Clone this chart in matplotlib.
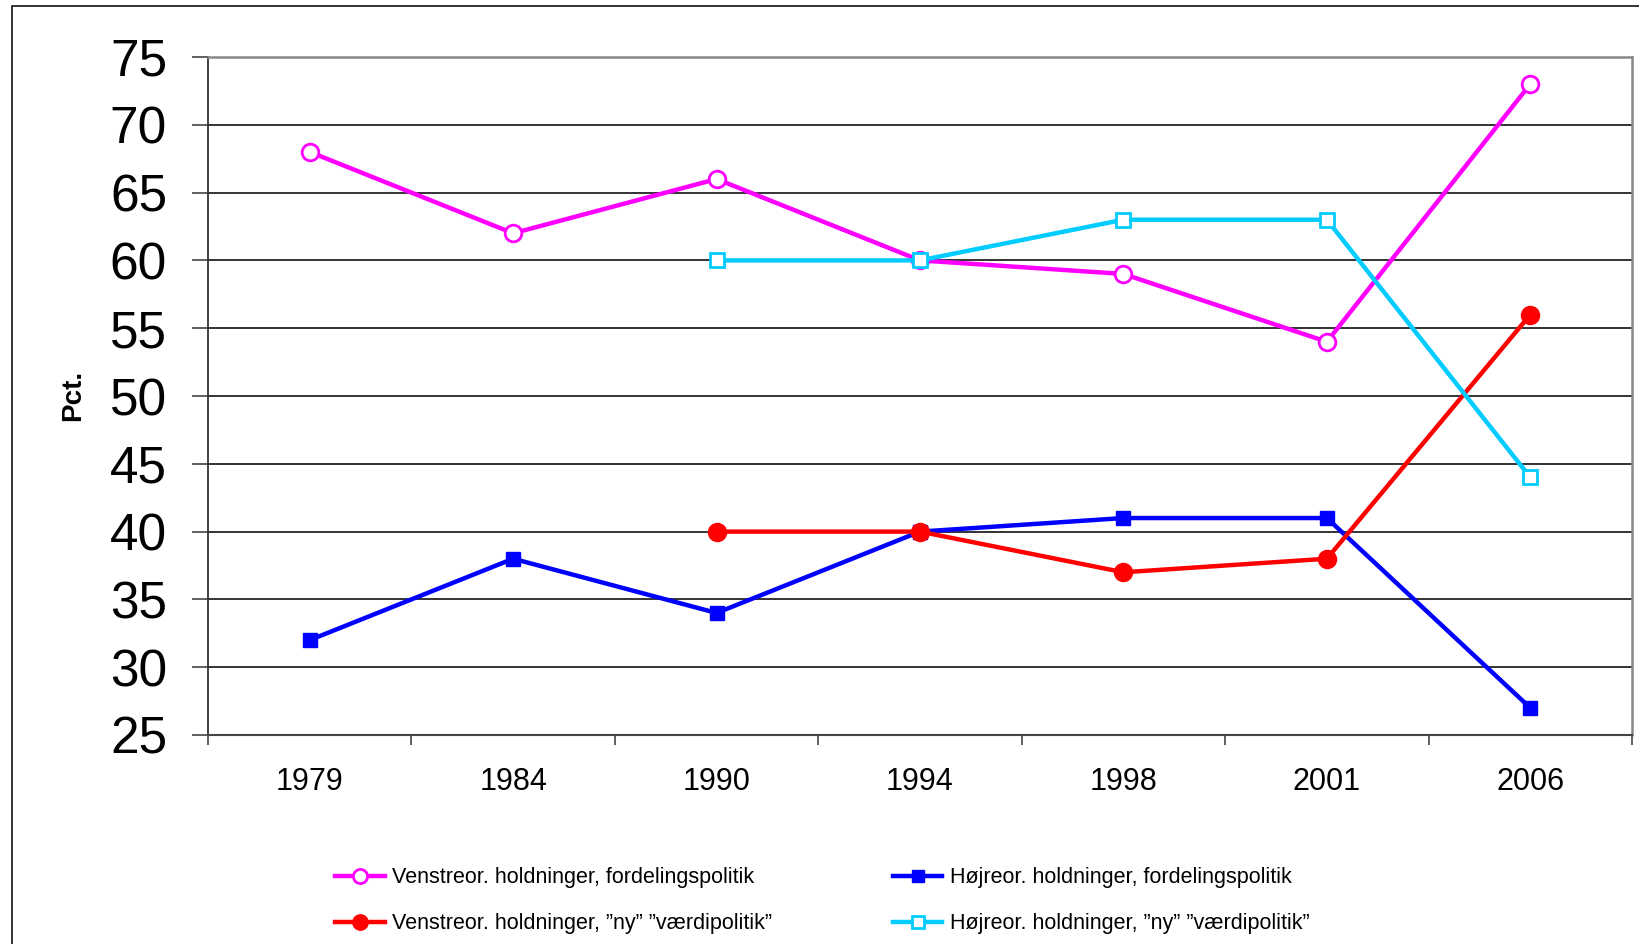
import matplotlib
matplotlib.use("Agg")
import matplotlib.pyplot as plt
from matplotlib.patches import Rectangle
import numpy as np

plt.rcParams['font.family'] = ['Liberation Sans', 'DejaVu Sans']

years = ["1979", "1984", "1990", "1994", "1998", "2001", "2006"]
venstre_ford = [68, 62, 66, 60, 59, 54, 73]
hojre_ford = [32, 38, 34, 40, 41, 41, 27]
venstre_ny = [np.nan, np.nan, 40, 40, 37, 38, 56]
hojre_ny = [np.nan, np.nan, 60, 60, 63, 63, 44]
yticks = [25, 30, 35, 40, 45, 50, 55, 60, 65, 70, 75]

labels = ["Venstreor. holdninger, fordelingspolitik",
          "Højreor. holdninger, fordelingspolitik",
          "Venstreor. holdninger, \u201dny\u201d \u201dværdipolitik\u201d",
          "Højreor. holdninger, \u201dny\u201d \u201dværdipolitik\u201d"]

W, H = 1639, 944
fig = plt.figure(figsize=(W / 100, H / 100), dpi=100)
fig.patch.set_facecolor('white')
fig.patches.append(Rectangle((12 / W, -0.2), 1.2, 1.2 - 6 / H, transform=fig.transFigure,
                             fill=False, edgecolor='#222222', linewidth=1.3))

ax = fig.add_axes([208 / W, 1 - 735 / H, (1632 - 208) / W, (735 - 57) / H])
x = np.arange(len(years)) + 0.5

lw = 3.2
l1, = ax.plot(x, venstre_ford, color='#FF00FF', lw=lw, marker='o', ms=12,
              mfc='white', mec='#FF00FF', mew=2, zorder=5)
l2, = ax.plot(x, hojre_ford, color='#0000FF', lw=lw, marker='s', ms=10,
              mfc='#0000FF', mec='#0000FF', zorder=5)
l3, = ax.plot(x, venstre_ny, color='#FF0000', lw=lw, marker='o', ms=13,
              mfc='#FF0000', mec='#FF0000', zorder=5)
l4, = ax.plot(x, hojre_ny, color='#00CCFF', lw=lw, marker='s', ms=10,
              mfc='white', mec='#00CCFF', mew=2, zorder=5)

ax.set_xlim(0, len(years))
ax.set_ylim(25, 75)
ax.set_yticks(yticks)
ax.set_yticklabels([str(v) for v in yticks], fontsize=37)
ax.tick_params(axis='y', length=11.5, width=1.2, color='#444444', pad=18)
ax.set_xticks(np.arange(len(years) + 1))
ax.set_xticklabels([])
ax.tick_params(axis='x', which='major', length=7, width=1.2, color='#444444')
ax.set_xticks(x, minor=True)
ax.set_xticklabels(years, minor=True, fontsize=22)
ax.tick_params(axis='x', which='minor', length=0, pad=23)

ax.yaxis.grid(True, color='#111111', linewidth=1.2)
ax.set_axisbelow(True)
for s in ['top', 'right']:
    ax.spines[s].set_color('#888888')
    ax.spines[s].set_linewidth(1.8)
ax.spines['left'].set_color('#333333')
ax.spines['left'].set_linewidth(1.3)
ax.spines['bottom'].set_color('#444444')
ax.spines['bottom'].set_linewidth(1.5)

fig.text(73 / W, 1 - 395 / H, "Pct.", rotation=90, fontsize=20, fontweight='bold',
         family=['Liberation Sans', 'DejaVu Sans'], ha='center', va='center')

leg = fig.legend([l1, l3, l2, l4], [labels[0], labels[2], labels[1], labels[3]],
                 ncol=2, loc='upper left', bbox_to_anchor=(316 / W, 1 - 848 / H),
                 frameon=False, fontsize=15.5, handlelength=2.3, handletextpad=0.35,
                 columnspacing=5.6, labelspacing=1.15, markerscale=0.85)

fig.savefig("out.png", dpi=100)
